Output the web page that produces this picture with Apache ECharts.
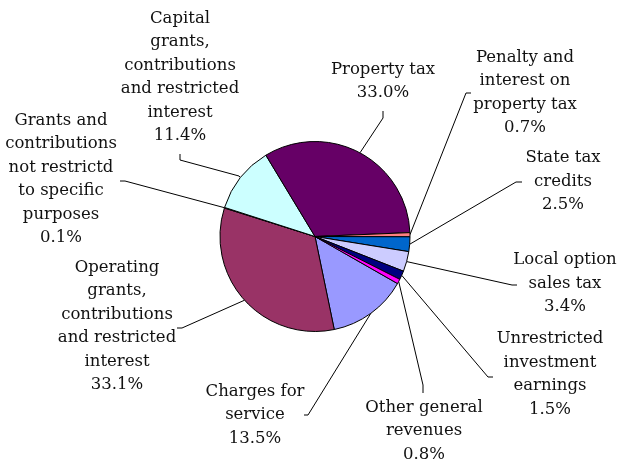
<!DOCTYPE html>
<html><head><meta charset="utf-8">
<script src="https://cdn.jsdelivr.net/npm/echarts@6/dist/echarts.min.js"></script>
<style>html,body{margin:0;padding:0;background:#fff}#c{width:623px;height:462px}</style>
</head><body><div id="c"></div>
<script>
// Data (clockwise order, as in the original workbook)
const categories = [
  'Charges for service',
  'Operating grants, contributions and restricted interest',
  'Grants and contributions not restrictd to specific purposes',
  'Capital grants, contributions and restricted interest',
  'Property tax',
  'Penalty and interest on property tax',
  'State tax credits',
  'Local option sales tax',
  'Unrestricted investment earnings',
  'Other general revenues'
];
const values = [13.5, 33.1, 0.1, 11.4, 33.0, 0.7, 2.5, 3.4, 1.5, 0.8];
const labelLines = [
  'Charges for\nservice',
  'Operating\ngrants,\ncontributions\nand restricted\ninterest',
  'Grants and\ncontributions\nnot restrictd\nto specific\npurposes',
  'Capital\ngrants,\ncontributions\nand restricted\ninterest',
  'Property tax',
  'Penalty and\ninterest on\nproperty tax',
  'State tax\ncredits',
  'Local option\nsales tax',
  'Unrestricted\ninvestment\nearnings',
  'Other general\nrevenues'
];

// Styles / layout (kept apart from the data)
const colors = ['#9999FF', '#993366', '#FFFFCC', '#CCFFFF', '#660066', '#FF8080', '#0066CC', '#CCCCFF', '#000080', '#FF00FF'];
const labelPos = [[255,415],[117,326],[61,179],[180,77],[383,81],[525,92.5],[563,181.5],[565,283.5],[550,374],[424,431]];
const labelElbows = [
  [[308,415],[304,415]],
  [[182,328],[177,328]],
  [[125,181],[120,181]],
  [[239,176],[180,160],[180,154]],
  [[383,118],[383,111]],
  [[466,93],[471,93]],
  [[516,182],[522,182]],
  [[512,285],[517,285]],
  [[488,377],[493,377]],
  [[423,385],[423,393]]
];
const CX = 315, CY = 236.5, R = 95, START = 330.3;

function edgePoint(i) {
  const total = values.reduce((a, b) => a + b, 0);
  let acc = 0;
  for (let k = 0; k < i; k++) acc += values[k];
  const mid = START - (acc + values[i] / 2) / total * 360;
  const a = mid * Math.PI / 180;
  return [CX + R * Math.cos(a), CY - R * Math.sin(a)];
}

const chart = echarts.init(document.getElementById('c'), null, {renderer: 'canvas'});
chart.setOption({
  animation: false,
  backgroundColor: '#fff',
  series: [{
    type: 'pie',
    center: [CX, CY],
    radius: R,
    startAngle: START,
    clockwise: true,
    avoidLabelOverlap: false,
    data: categories.map((n, i) => ({
      name: n, value: values[i],
      itemStyle: {color: colors[i]}
    })),
    itemStyle: {borderColor: '#000', borderWidth: 1},
    emphasis: {disabled: true},
    label: {
      show: true,
      position: 'outside',
      formatter: p => labelLines[p.dataIndex] + '\n' + values[p.dataIndex].toFixed(1) + '%',
      fontFamily: 'DejaVu Serif',
      fontSize: 16.5,
      lineHeight: 23.5,
      color: '#111',
      align: 'center'
    },
    labelLine: {show: true, length: 10, length2: 10, lineStyle: {color: '#000', width: 1}},
    labelLayout: function (p) {
      const i = p.dataIndex;
      const start = edgePoint(i);
      return {
        x: labelPos[i][0], y: labelPos[i][1],
        align: 'center', verticalAlign: 'middle',
        labelLinePoints: [start].concat(labelElbows[i])
      };
    }
  }]
});
</script></body></html>
